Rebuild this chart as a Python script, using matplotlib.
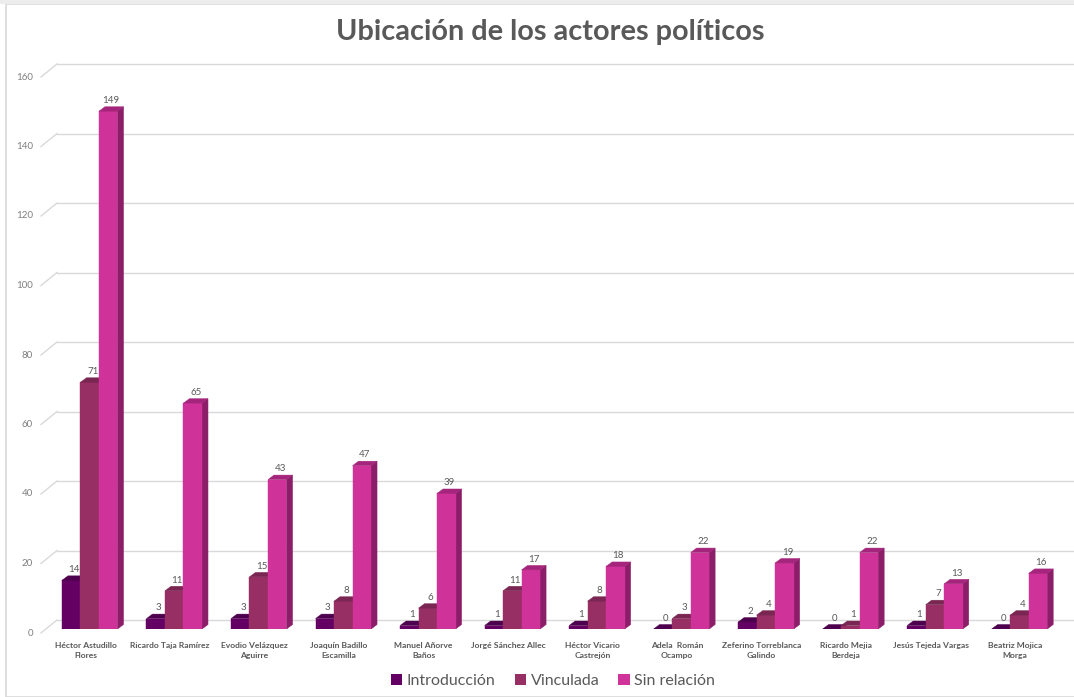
import matplotlib
matplotlib.use("Agg")
import matplotlib.pyplot as plt
import numpy as np
from matplotlib.patches import Polygon, Rectangle
from matplotlib.lines import Line2D

plt.rcParams['font.family'] = ['Lato', 'DejaVu Sans']

categories = ["Héctor Astudillo\nFlores", "Ricardo Taja Ramírez", "Evodio Velázquez\nAguirre",
              "Joaquín Badillo\nEscamilla", "Manuel Añorve\nBaños", "Jorgé Sánchez Allec",
              "Héctor Vicario\nCastrejón", "Adela  Román\nOcampo", "Zeferino Torreblanca\nGalindo",
              "Ricardo Mejia\nBerdeja", "Jesús Tejeda Vargas", "Beatriz Mojica\nMorga"]
introduccion = [14, 3, 3, 3, 1, 1, 1, 0, 2, 0, 1, 0]
vinculada = [71, 11, 15, 8, 6, 11, 8, 3, 4, 1, 7, 4]
sin_relacion = [149, 65, 43, 47, 39, 17, 18, 22, 19, 22, 13, 16]
series_names = ["Introducción", "Vinculada", "Sin relación"]
yticks = [0, 20, 40, 60, 80, 100, 120, 140, 160]

front_colors = ["#640064", "#982F64", "#CF3399"]
side_colors = ["#3F003F", "#6E2148", "#8C1D68"]
top_colors = ["#4D004D", "#7A2652", "#A5257C"]

W, H = 1074, 697
fig = plt.figure(figsize=(W / 100, H / 100), dpi=100)
fig.patch.set_facecolor("white")

# axes placement in pixels (front plane)
x_left_px, x_right_px = 45.75, 1060.0
y0_px, y160_px = 629.0, 73.0
ax = fig.add_axes([x_left_px / W, (H - y0_px) / H, (x_right_px - x_left_px) / W, (y0_px - y160_px) / H])
ax.set_xlim(-0.5, len(categories) - 0.5)
ax.set_ylim(0, 160)
ax.axis("off")

# pixel -> data scale
px_per_x = (x_right_px - x_left_px) / len(categories)
px_per_y = (y0_px - y160_px) / 160.0

# frame border
fig.add_artist(Rectangle((6 / W, 0), 2, (H - 4) / H, transform=fig.transFigure,
                         fill=False, edgecolor="#D9D9D9", lw=1.2))
fig.add_artist(Rectangle((0, (H - 4) / H), 1, 4 / H, transform=fig.transFigure,
                         facecolor="#EDEDED", edgecolor="none"))

# gridlines on back wall + diagonal to labels
back_dy = 9.0
for v in yticks:
    yf = y0_px - v * px_per_y
    yb = yf - back_dy
    fig.add_artist(Line2D([57 / W, 1.0], [(H - yb) / H, (H - yb) / H], transform=fig.transFigure,
                          color="#D9D9D9", lw=1.0, zorder=0))
    fig.add_artist(Line2D([41 / W, 57 / W], [(H - yf - 4) / H, (H - yb) / H], transform=fig.transFigure,
                          color="#D9D9D9", lw=1.0, zorder=0))
    fig.text(33 / W, (H - yf - 4) / H, str(v), ha="right", va="center",
             fontsize=7, color="#7F7F7F")

# bars
bw = 18.5 / px_per_x
ddx = 6.0 / px_per_x
ddy = 4.5 / px_per_y
data = [introduccion, vinculada, sin_relacion]
x = np.arange(len(categories))
for s, vals in enumerate(data):
    for i, v in enumerate(vals):
        xl = x[i] + (s - 1.5) * bw + 0.02
        xr = xl + bw
        ax.add_patch(Polygon([(xr, 0), (xr + ddx, ddy), (xr + ddx, v + ddy), (xr, v)],
                             closed=True, facecolor=side_colors[s], edgecolor=side_colors[s],
                             lw=0.4, zorder=2))
        ax.add_patch(Rectangle((xl, 0), bw, v, facecolor=front_colors[s], edgecolor=front_colors[s],
                               lw=0.3, zorder=3))
        ax.add_patch(Polygon([(xl, v), (xl + ddx, v + ddy), (xr + ddx, v + ddy), (xr, v)],
                             closed=True, facecolor=top_colors[s], edgecolor=top_colors[s],
                             lw=0.3, zorder=3))
        ax.text(xl + bw / 2 + ddx / 2, v + ddy + 0.5, str(v), ha="center", va="bottom",
                fontsize=7, color="#595959", zorder=5, clip_on=False)

# category labels
for i, c in enumerate(categories):
    ax.text(x[i] - 0.03, -3.6, c, ha="center", va="top", fontsize=6.1, fontweight="bold",
            color="#595959", linespacing=1.5, clip_on=False)

# title
fig.text(550 / W, (H - 32) / H, "Ubicación de los actores políticos", ha="center", va="center",
         fontsize=20.8, fontweight="bold", color="#595959")

# legend
handles = [Rectangle((0, 0), 1, 1, facecolor=front_colors[k], edgecolor="none") for k in range(3)]
fig.legend(handles, series_names, loc="center", bbox_to_anchor=(553 / W, (H - 681) / H),
           ncol=3, frameon=False, fontsize=11.5, handlelength=0.7, handleheight=0.7,
           handletextpad=0.3, columnspacing=1.2, labelcolor="#595959")

fig.savefig("out.png", dpi=100)
